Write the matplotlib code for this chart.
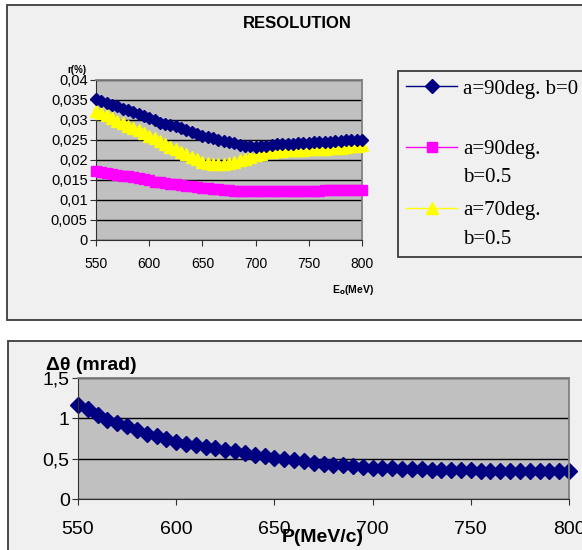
import matplotlib.pyplot as plt
from matplotlib.patches import Rectangle

# data (5 MeV steps)
energy = list(range(550, 801, 5))

res_a90_b0 = [0.0352, 0.0348, 0.0343, 0.0338, 0.0334, 0.0328, 0.0324, 0.0320, 0.0316, 0.0311,
              0.0306, 0.0299, 0.0293, 0.0291, 0.0287, 0.0284, 0.0280, 0.0275, 0.0270, 0.0266,
              0.0260, 0.0257, 0.0254, 0.0251, 0.0248, 0.0245, 0.0242, 0.0238, 0.0235, 0.0234,
              0.0233, 0.0234, 0.0236, 0.0237, 0.0239, 0.0240, 0.0241, 0.0241, 0.0242, 0.0242,
              0.0243, 0.0244, 0.0245, 0.0246, 0.0246, 0.0247, 0.0248, 0.0249, 0.0250, 0.0251,
              0.0250]
res_a90_b05 = [0.0172, 0.0170, 0.0167, 0.0165, 0.0163, 0.0161, 0.0159, 0.0157, 0.0155, 0.0153,
               0.0149, 0.0146, 0.0144, 0.0143, 0.0141, 0.0140, 0.0137, 0.0136, 0.0134, 0.0133,
               0.0131, 0.0129, 0.0128, 0.0127, 0.0126, 0.0125, 0.0122, 0.0122, 0.0122, 0.0122,
               0.0122, 0.0122, 0.0122, 0.0122, 0.0122, 0.0122, 0.0122, 0.0122, 0.0122, 0.0122,
               0.0122, 0.0122, 0.0122, 0.0124, 0.0125, 0.0126, 0.0126, 0.0126, 0.0126, 0.0126,
               0.0126]
res_a70_b05 = [0.0323, 0.0318, 0.0312, 0.0305, 0.0298, 0.0292, 0.0286, 0.0280, 0.0274, 0.0268,
               0.0261, 0.0254, 0.0247, 0.0240, 0.0233, 0.0227, 0.0221, 0.0214, 0.0208, 0.0202,
               0.0196, 0.0192, 0.0190, 0.0190, 0.0190, 0.0192, 0.0195, 0.0199, 0.0203, 0.0208,
               0.0212, 0.0216, 0.0219, 0.0221, 0.0222, 0.0223, 0.0224, 0.0225, 0.0226, 0.0226,
               0.0227, 0.0227, 0.0228, 0.0228, 0.0229, 0.0230, 0.0231, 0.0232, 0.0234, 0.0236,
               0.0238]

momentum = list(range(550, 801, 5))
dtheta = [1.17, 1.11, 1.045, 0.985, 0.94, 0.90, 0.85, 0.81, 0.78, 0.74,
          0.71, 0.685, 0.665, 0.645, 0.63, 0.61, 0.59, 0.57, 0.548, 0.528,
          0.51, 0.498, 0.483, 0.467, 0.452, 0.44, 0.427, 0.416, 0.406, 0.398,
          0.39, 0.385, 0.38, 0.376, 0.372, 0.368, 0.365, 0.362, 0.36, 0.357,
          0.355, 0.353, 0.352, 0.351, 0.35, 0.349, 0.348, 0.347, 0.346, 0.345,
          0.344]

top_yticks = [0, 0.005, 0.01, 0.015, 0.02, 0.025, 0.03, 0.035, 0.04]
top_ylabels = ['0', '0,005', '0,01', '0,015', '0,02', '0,025', '0,03', '0,035', '0,04']
bot_yticks = [0, 0.5, 1, 1.5]
bot_ylabels = ['0', '0,5', '1', '1,5']
xticks = [550, 600, 650, 700, 750, 800]
legend_labels = ['a=90deg. b=0', 'a=90deg.', 'a=70deg.']

W, H = 582, 550
plt.rcParams['font.family'] = ['Liberation Sans', 'DejaVu Sans']
fig = plt.figure(figsize=(W / 100, H / 100), dpi=100)
fig.patch.set_facecolor('white')


def box(x0, y0, x1, y1):
    # rectangle in pixel coords (origin top-left)
    r = Rectangle((x0 / W, 1 - y1 / H), (x1 - x0) / W, (y1 - y0) / H,
                  transform=fig.transFigure, facecolor='#f0f0f0',
                  edgecolor='#3c3c3c', lw=1.3, zorder=-1)
    fig.add_artist(r)


def axes_px(x0, y0, x1, y1):
    return fig.add_axes([x0 / W, 1 - y1 / H, (x1 - x0) / W, (y1 - y0) / H])


def style(ax):
    ax.set_facecolor('#c0c0c0')
    ax.grid(axis='y', color='black', lw=1)
    ax.set_axisbelow(True)
    for s in ['top', 'right']:
        ax.spines[s].set_color('#808080')
        ax.spines[s].set_linewidth(1.3)
    for s in ['left', 'bottom']:
        ax.spines[s].set_color('#303030')
    ax.tick_params(direction='out', length=4, color='#303030')


box(7, 5, 600, 320)
box(8, 341, 600, 600)
box(398, 71, 600, 257)

# top chart
ax1 = axes_px(96, 80, 362, 240)
style(ax1)
l1, = ax1.plot(energy, res_a90_b0, color='#000080', marker='D', ms=6.5, lw=1, clip_on=False, zorder=5)
l2, = ax1.plot(energy, res_a90_b05, color='#ff00ff', marker='s', ms=7.2, lw=1, clip_on=False, zorder=3)
l3, = ax1.plot(energy, res_a70_b05, color='#ffff00', marker='^', ms=8.5, lw=1, clip_on=False, zorder=4)
ax1.set_xlim(550, 800)
ax1.set_ylim(0, 0.04)
ax1.set_xticks(xticks)
ax1.set_xticklabels([str(v) for v in xticks], fontsize=10)
ax1.set_yticks(top_yticks)
ax1.set_yticklabels(top_ylabels, fontsize=10.5)
ax1.tick_params(axis='x', pad=8)
ax1.tick_params(axis='y', pad=2)

fig.text(297 / W, 1 - 24 / H, 'RESOLUTION', ha='center', va='center', fontsize=12, fontweight='bold')
fig.text(77 / W, 1 - 70 / H, 'r(%)', ha='center', va='center', fontsize=7, fontweight='bold')
fig.text(353 / W, 1 - 290 / H, r'E$_{\mathbf{o}}$(MeV)', ha='center', va='center', fontsize=7.5, fontweight='bold')

leg = ax1.legend([l1, l2, l3], legend_labels, loc='upper left',
                 bbox_to_anchor=(406 / W, 1 - 79 / H), bbox_transform=fig.transFigure,
                 frameon=False, borderaxespad=0, borderpad=0,
                 prop={'family': 'Liberation Serif', 'size': 15},
                 handlelength=2.45, handletextpad=0.29, labelspacing=1.98, markerscale=1.05)
fig.text(463 / W, 1 - 177 / H, 'b=0.5', ha='left', va='center', fontsize=15, family='Liberation Serif')
fig.text(463 / W, 1 - 239 / H, 'b=0.5', ha='left', va='center', fontsize=15, family='Liberation Serif')

# bottom chart
ax2 = axes_px(78, 378, 569, 499)
style(ax2)
ax2.plot(momentum, dtheta, color='#000080', marker='D', ms=8.5, lw=1, clip_on=False)
ax2.set_xlim(550, 800)
ax2.set_ylim(0, 1.5)
ax2.set_xticks(xticks)
ax2.set_xticklabels([str(v) for v in xticks], fontsize=14)
ax2.set_yticks(bot_yticks)
ax2.set_yticklabels(bot_ylabels, fontsize=14)
ax2.tick_params(axis='x', pad=11.5)
ax2.tick_params(axis='y', pad=2)

fig.text(46 / W, 1 - 365 / H, 'Δθ (mrad)', ha='left', va='center', fontsize=14, fontweight='bold')
fig.text(323 / W, 1 - 537 / H, 'P(MeV/c)', ha='center', va='center', fontsize=14, fontweight='bold')

fig.savefig('out.png', dpi=100)
